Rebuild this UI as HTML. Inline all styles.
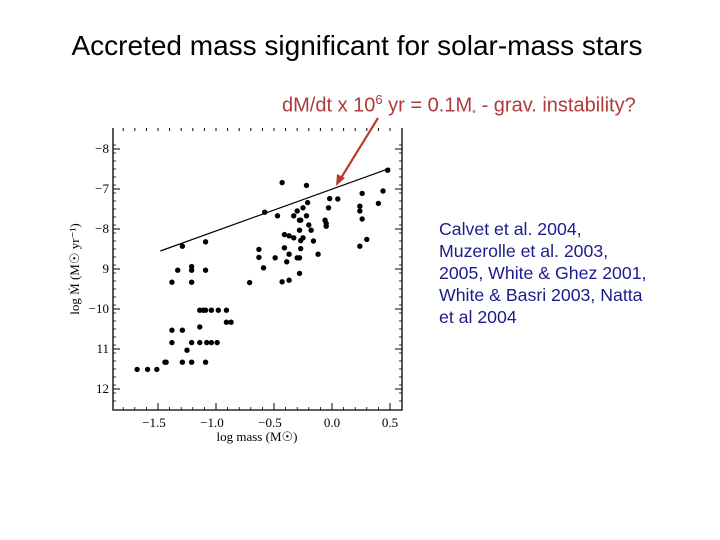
<!DOCTYPE html>
<html><head><meta charset="utf-8"><style>
html,body{margin:0;padding:0;background:#fff;}
#wrap{position:relative;width:720px;height:540px;overflow:hidden;font-family:"Liberation Sans",Arial,sans-serif;}
</style></head><body>
<div id="wrap">
<div style="position:absolute;left:0;width:714px;top:30px;text-align:center;font-size:28px;color:#000;white-space:nowrap;">Accreted mass significant for solar-mass stars</div>
<div style="position:absolute;left:282px;top:92px;font-size:20px;color:#b03a3a;white-space:nowrap;">dM/dt x 10<sup style="font-size:13px">6</sup> yr = 0.1M<sub style="font-size:10px">*</sub> - grav. instability?</div>
<div style="position:absolute;left:439px;top:218px;font-size:17.7px;line-height:22px;color:#1c1c8c;width:260px;white-space:nowrap;">Calvet et al. 2004,<br>Muzerolle et al. 2003,<br>2005, White &amp; Ghez 2001,<br>White &amp; Basri 2003, Natta<br>et al 2004</div>
<svg id="chart" width="720" height="540" style="position:absolute;left:0;top:0;" font-family="Liberation Serif, serif"></svg>
</div>
<script>
const xs=[-1.68,-1.59,-1.51,-1.44,-1.43,-1.29,-1.21,-1.09,-1.25,-1.38,-1.21,-1.14,-1.08,-1.04,-0.99,-1.38,-1.29,-1.14,-1.14,-1.11,-1.09,-1.04,-0.98,-0.91,-0.91,-0.87,-1.38,-1.21,-1.33,-1.21,-1.21,-1.09,-1.29,-1.09,-0.71,-0.63,-0.63,-0.59,-0.58,-0.49,-0.47,-0.43,-0.41,-0.41,-0.39,-0.37,-0.43,-0.37,-0.37,-0.33,-0.33,-0.30,-0.30,-0.28,-0.28,-0.28,-0.27,-0.27,-0.28,-0.27,-0.25,-0.25,-0.22,-0.22,-0.21,-0.20,-0.18,-0.16,-0.12,-0.06,-0.05,-0.05,-0.03,-0.02,0.05,0.24,0.24,0.24,0.26,0.26,0.30,0.40,0.44,0.48];
const ys=[-11.51,-11.51,-11.51,-11.33,-11.33,-11.33,-11.33,-11.33,-11.03,-10.84,-10.84,-10.84,-10.84,-10.84,-10.84,-10.53,-10.53,-10.45,-10.03,-10.03,-10.03,-10.03,-10.03,-10.03,-10.33,-10.33,-9.33,-9.33,-9.03,-8.94,-9.03,-9.03,-8.43,-8.32,-9.34,-8.51,-8.71,-8.97,-7.58,-8.72,-7.67,-6.84,-8.47,-8.14,-8.82,-8.63,-9.32,-9.28,-8.17,-7.67,-8.22,-7.55,-8.72,-8.72,-7.78,-8.03,-8.49,-8.29,-9.11,-7.78,-7.47,-8.22,-7.67,-6.91,-7.34,-7.90,-8.03,-8.30,-8.63,-7.78,-7.86,-7.93,-7.47,-7.24,-7.25,-7.43,-7.55,-8.43,-7.11,-7.75,-8.26,-7.36,-7.05,-6.53];
const fitLine=[[-1.48,-8.55],[0.5,-6.48]];
const xTicks=[-1.5,-1.0,-0.5,0.0,0.5];
const xTickLabels=["\u22121.5","\u22121.0","\u22120.5","0.0","0.5"];
const yTicks=[-6,-7,-8,-9,-10,-11,-12];
const yTickLabels=["\u22128","\u22127","\u22128","9","\u221210","11","12"];
const NS="http://www.w3.org/2000/svg";
const svg=document.getElementById('chart');
const L=113,R=402,T=128,B=410;
const sx=v=>332+v*116;
const sy=v=>149+(-6-v)*40;
function mk(t,a){const e=document.createElementNS(NS,t);for(const k in a)e.setAttribute(k,a[k]);svg.appendChild(e);return e;}
let e;
e=mk('path',{d:`M${L},${T} V${B} H${R} V${T}`,fill:'none',stroke:'#000','stroke-width':1.3});


for(let v=-5.9;v>=-12.45;v-=0.2){const y=sy(v);if(y<T||y>B)continue;
 e=mk('line',{x1:L,x2:L+3,y1:y,y2:y,stroke:'#000','stroke-width':0.8});
 
 
 e=mk('line',{x1:R,x2:R-3,y1:y,y2:y,stroke:'#000','stroke-width':0.8});
 
 }
for(let v=-1.8;v<=0.55;v+=0.1){const x=sx(v);if(x<L||x>R)continue;
 e=mk('line',{x1:x,x2:x,y1:T,y2:T+3,stroke:'#000','stroke-width':1});
 
 
 e=mk('line',{x1:x,x2:x,y1:B,y2:B-3,stroke:'#000','stroke-width':0.8});
 
 }
yTicks.forEach((v,i)=>{const y=sy(v);
 e=mk('line',{x1:L,x2:L+7,y1:y,y2:y,stroke:'#000','stroke-width':1});
 
 
 e=mk('line',{x1:R,x2:R-7,y1:y,y2:y,stroke:'#000','stroke-width':1});
 
 
 e=mk('text',{x:L-4,y:y+4,'text-anchor':'end','font-size':13});e.textContent=yTickLabels[i];
 
 });
xTicks.forEach((v,i)=>{const x=sx(v);
 e=mk('line',{x1:x,x2:x,y1:B,y2:B-7,stroke:'#000','stroke-width':1});
 
 
 e=mk('text',{x:x-(v<0?4:0),y:B+17,'text-anchor':'middle','font-size':13});e.textContent=xTickLabels[i];
 
 });
e=mk('text',{x:257,y:441,'text-anchor':'middle','font-size':13});e.textContent='log mass (M\u2609)';


e=mk('text',{x:0,y:0,'text-anchor':'middle','font-size':13,transform:'translate(79,269) rotate(-90)'});e.textContent='log \u1E40 (M\u2609 yr\u207B\u00B9)';


e=mk('line',{x1:sx(fitLine[0][0]),y1:sy(fitLine[0][1]),x2:sx(fitLine[1][0]),y2:sy(fitLine[1][1]),stroke:'#000','stroke-width':1.2});


xs.forEach((v,i)=>{e=mk('circle',{cx:sx(v),cy:sy(ys[i]),r:2.7,fill:'#000'});
 
 });
e=mk('line',{x1:378,y1:118,x2:341,y2:178,stroke:'#c0392b','stroke-width':2.2});


e=mk('polygon',{points:'336,186 337,174 345,178',fill:'#c0392b'});


</script>
</body></html>
